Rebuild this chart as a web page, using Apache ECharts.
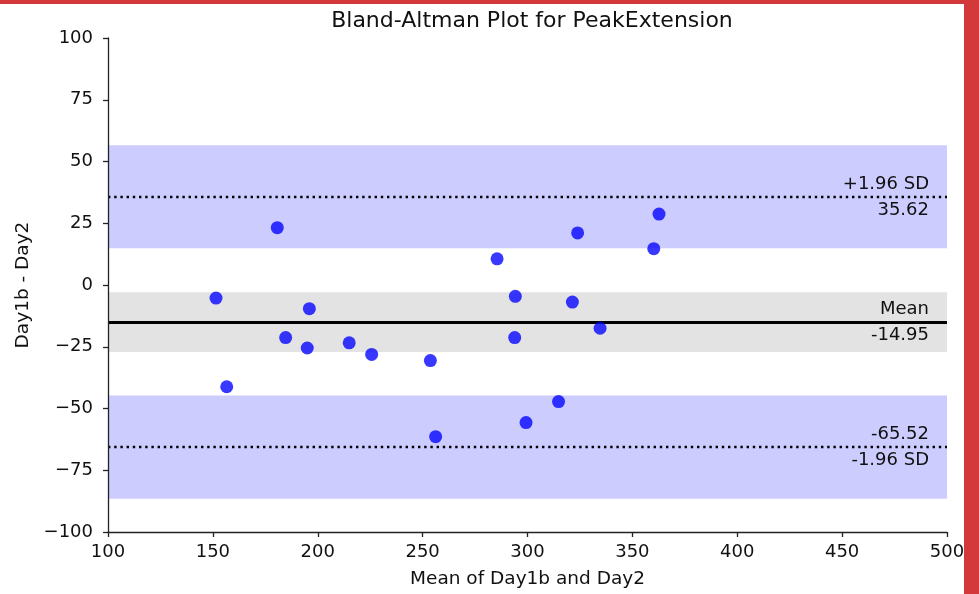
<!DOCTYPE html>
<html>
<head>
<meta charset="utf-8">
<script src="https://cdn.jsdelivr.net/npm/echarts@6/dist/echarts.min.js"></script>
<style>
  html, body { margin: 0; padding: 0; background: #fff; }
  #chart { width: 979px; height: 594px; }
</style>
</head>
<body>
<div id="chart"></div>
<script>
// Mean of the two measurements (x) and their difference (y)
var meanValues = [180.7, 151.5, 196.0, 184.7, 195.0, 215.0, 225.7, 156.6,
                  362.7, 323.9, 360.2, 285.5, 294.2, 321.4, 334.6, 293.9,
                  253.7, 314.8, 299.3, 256.2];
var diffValues = [23.2, -5.3, -9.6, -21.3, -25.5, -23.4, -28.1, -41.2,
                  28.7, 21.1, 14.7, 10.6, -4.6, -6.9, -17.5, -21.3,
                  -30.6, -47.2, -55.7, -61.4];

// Bias and limits of agreement
var meanDiff = -14.95;
var upperLoA = 35.62;
var lowerLoA = -65.52;

// Confidence bands [low, high]
var upperBand = [14.9, 56.6];
var meanBand = [-27.1, -2.9];
var lowerBand = [-86.5, -44.7];

var xTicks = [100, 150, 200, 250, 300, 350, 400, 450, 500];
var yTicks = [-100, -75, -50, -25, 0, 25, 50, 75, 100];

var FONT = 'DejaVu Sans';
var TXT = '#111';

function minus(v) { return String(v).replace('-', '\u2212'); }

var points = meanValues.map(function (x, i) { return [x, diffValues[i]]; });

// One visible line carrying the upper text, plus an invisible twin for the lower text
function lineWithLabels(y, above, below, style) {
  return [
    [{ xAxis: xTicks[0], yAxis: y, lineStyle: style,
       label: { show: true, position: 'insideEndTop', formatter: above } },
     { xAxis: xTicks[xTicks.length - 1], yAxis: y }],
    [{ xAxis: xTicks[0], yAxis: y,
       lineStyle: { color: 'rgba(0,0,0,0)', width: 0 },
       label: { show: true, position: 'insideEndBottom', formatter: below } },
     { xAxis: xTicks[xTicks.length - 1], yAxis: y }]
  ];
}

var dotted = { color: '#000', width: 2.4, type: [2.4, 3.8] };
var solid = { color: '#000', width: 3, type: 'solid' };

var lines = []
  .concat(lineWithLabels(upperLoA, '+1.96 SD', upperLoA.toFixed(2), dotted))
  .concat(lineWithLabels(meanDiff, 'Mean', meanDiff.toFixed(2), solid))
  .concat(lineWithLabels(lowerLoA, lowerLoA.toFixed(2), '-1.96 SD', dotted));

var chart = echarts.init(document.getElementById('chart'), null, { renderer: 'canvas' });

var axisLineStyle = { color: '#222', width: 1.3 };

chart.setOption({
  animation: false,
  backgroundColor: '#fff',
  title: {
    text: 'Bland-Altman Plot for PeakExtension',
    left: 527, top: 5, textAlign: 'center',
    textStyle: { fontFamily: FONT, fontSize: 22, fontWeight: 'normal', color: TXT }
  },
  grid: { left: 108, right: 32, top: 38, bottom: 62 },
  xAxis: {
    type: 'value', min: 100, max: 500, interval: 50, z: 10,
    name: 'Mean of Day1b and Day2', nameLocation: 'middle', nameGap: 38,
    nameTextStyle: { fontFamily: FONT, fontSize: 18.5, color: TXT },
    axisLine: { onZero: false, lineStyle: axisLineStyle },
    axisTick: { show: true, length: 5, lineStyle: axisLineStyle },
    axisLabel: { fontFamily: FONT, fontSize: 18, color: TXT, margin: 11 },
    splitLine: { show: false }
  },
  yAxis: {
    type: 'value', min: -100, max: 100, interval: 25, z: 10,
    name: 'Day1b - Day2', nameLocation: 'middle', nameGap: 72,
    nameTextStyle: { fontFamily: FONT, fontSize: 18.5, color: TXT },
    axisLine: { onZero: false, lineStyle: axisLineStyle },
    axisTick: { show: true, length: 5, lineStyle: axisLineStyle },
    axisLabel: { fontFamily: FONT, fontSize: 18, color: TXT, margin: 15,
                 formatter: function (v) { return minus(v); } },
    splitLine: { show: false }
  },
  series: [{
    type: 'scatter',
    data: points,
    symbolSize: 13,
    itemStyle: { color: 'rgba(0,0,255,0.78)', opacity: 1 },
    z: 5,
    markArea: {
      silent: true,
      z: 1,
      data: [
        [{ xAxis: 100, yAxis: upperBand[0], itemStyle: { color: '#ccccff' } },
         { xAxis: 500, yAxis: upperBand[1] }],
        [{ xAxis: 100, yAxis: meanBand[0], itemStyle: { color: '#e3e3e3' } },
         { xAxis: 500, yAxis: meanBand[1] }],
        [{ xAxis: 100, yAxis: lowerBand[0], itemStyle: { color: '#ccccff' } },
         { xAxis: 500, yAxis: lowerBand[1] }]
      ]
    },
    markLine: {
      silent: true,
      symbol: ['none', 'none'],
      z: 3,
      label: { fontFamily: FONT, fontSize: 18, color: TXT, distance: [18, 4] },
      data: lines
    }
  }],
  graphic: [
    { type: 'rect', shape: { x: 0, y: 0, width: 979, height: 4 },
      style: { fill: '#d3383a' }, z: 100 },
    { type: 'rect', shape: { x: 964, y: 0, width: 15, height: 594 },
      style: { fill: '#d3383a' }, z: 100 }
  ]
});
</script>
</body>
</html>
